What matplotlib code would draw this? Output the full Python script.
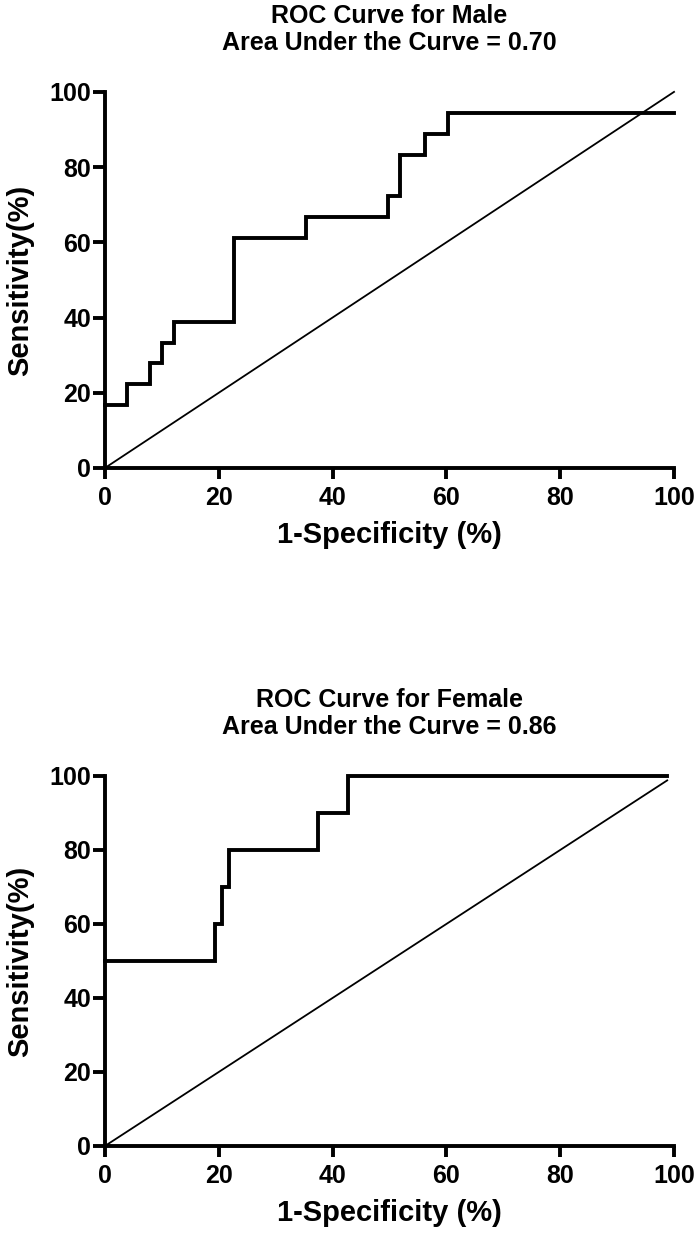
import numpy as np
import matplotlib.pyplot as plt

plt.rcParams['font.family'] = ['Liberation Sans', 'DejaVu Sans']
plt.rcParams['font.weight'] = 'bold'

# ROC step points (1-specificity %, sensitivity %)
male_fpr = [0, 3.8, 3.8, 7.9, 7.9, 10.1, 10.1, 12.2, 12.2, 22.7, 22.7,
            35.3, 35.3, 49.8, 49.8, 51.9, 51.9, 56.2, 56.2, 60.3, 60.3, 100]
male_tpr = [16.7, 16.7, 22.2, 22.2, 27.8, 27.8, 33.3, 33.3, 38.9, 38.9, 61.1,
            61.1, 66.7, 66.7, 72.2, 72.2, 83.3, 83.3, 88.9, 88.9, 94.4, 94.4]
female_fpr = [0, 19.3, 19.3, 20.6, 20.6, 21.8, 21.8, 37.5, 37.5, 42.7, 42.7, 98.8]
female_tpr = [50, 50, 60, 60, 70, 70, 80, 80, 90, 90, 100, 100]

# chance lines
male_ref = [0, 100]
female_ref = [0, 98.8]

titles = ["ROC Curve for Male\nArea Under the Curve = 0.70",
          "ROC Curve for Female\nArea Under the Curve = 0.86"]
ticks = [0, 20, 40, 60, 80, 100]

fig = plt.figure(figsize=(7, 12.35), dpi=100)
ax1 = fig.add_axes([0.15, 0.6211, 0.8129, 0.3045])
ax2 = fig.add_axes([0.15, 0.0721, 0.8129, 0.2996])

data = [(male_fpr, male_tpr, male_ref), (female_fpr, female_tpr, female_ref)]
for ax, (fx, fy, ref), title in zip([ax1, ax2], data, titles):
    ax.plot(fx, fy, color='black', lw=2.8, solid_joinstyle='miter',
            clip_on=False, zorder=3)
    ax.plot(ref, ref, color='black', lw=1.3, clip_on=False)
    ax.set_xlim(0, 100)
    ax.set_ylim(0, 100)
    ax.set_xticks(ticks)
    ax.set_yticks(ticks)
    ax.spines['top'].set_visible(False)
    ax.spines['right'].set_visible(False)
    ax.spines['left'].set_linewidth(2.8)
    ax.spines['bottom'].set_linewidth(2.8)
    ax.tick_params(axis='x', direction='out', length=8, width=2.8, labelsize=18, pad=5)
    ax.tick_params(axis='y', direction='out', length=9, width=2.8, labelsize=18, pad=1)
    for lab in ax.get_xticklabels() + ax.get_yticklabels():
        lab.set_fontweight('bold')
    ax.set_xlabel("1-Specificity (%)", fontsize=21, fontweight='bold', labelpad=8)
    ax.set_ylabel("Sensitivity(%)", fontsize=21, fontweight='bold', labelpad=11)
    ax.set_title(title, fontsize=18, fontweight='bold', pad=30, linespacing=1.15)

fig.savefig("out.png", dpi=100)
